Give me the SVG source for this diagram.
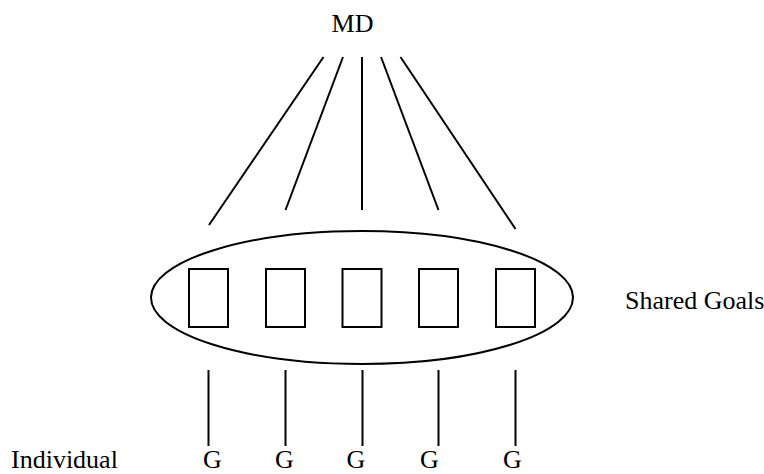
<svg xmlns="http://www.w3.org/2000/svg" width="764" height="474" viewBox="0 0 764 474">
  <style>
    .label { font-family: "Liberation Serif", "Times New Roman", serif; font-size: 26px; fill: #000; }
    .edge { stroke: #000; stroke-width: 2; fill: none; }
    .box { stroke: #000; stroke-width: 2; fill: #fff; }
  </style>
  <rect width="764" height="474" fill="#fff"/>

  <!-- connectors: MD fan-out and goal drop lines -->
  <g id="connectors">
    <line class="edge" x1="323.5" y1="57" x2="209" y2="225"/>
    <line class="edge" x1="343" y1="57" x2="285.5" y2="210"/>
    <line class="edge" x1="362" y1="57" x2="362" y2="210"/>
    <line class="edge" x1="381" y1="57" x2="438.5" y2="210"/>
    <line class="edge" x1="400.5" y1="57" x2="515.5" y2="229"/>

    <line class="edge" x1="208.5" y1="370" x2="208.5" y2="446"/>
    <line class="edge" x1="285.5" y1="370" x2="285.5" y2="446"/>
    <line class="edge" x1="362.5" y1="370" x2="362.5" y2="446"/>
    <line class="edge" x1="438.5" y1="370" x2="438.5" y2="446"/>
    <line class="edge" x1="515.5" y1="370" x2="515.5" y2="446"/>
  </g>

  <g id="md">
    <text class="label" x="352.5" y="32" text-anchor="middle">MD</text>
  </g>

  <g id="shared-goals">
    <ellipse class="edge" cx="362" cy="297.5" rx="211" ry="66.5"/>
    <rect class="box" x="189" y="269" width="39" height="58"/>
    <rect class="box" x="266" y="269" width="39" height="58"/>
    <rect class="box" x="342.5" y="269" width="39" height="58"/>
    <rect class="box" x="419" y="269" width="39" height="58"/>
    <rect class="box" x="496" y="269" width="39" height="58"/>
    <text class="label" x="625" y="309">Shared Goals</text>
  </g>

  <g id="individual">
    <text class="label" x="11" y="468">Individual</text>
    <text class="label" x="212.5" y="468" text-anchor="middle">G</text>
    <text class="label" x="284.5" y="468" text-anchor="middle">G</text>
    <text class="label" x="356" y="468" text-anchor="middle">G</text>
    <text class="label" x="429.5" y="468" text-anchor="middle">G</text>
    <text class="label" x="512.5" y="468" text-anchor="middle">G</text>
  </g>
</svg>
